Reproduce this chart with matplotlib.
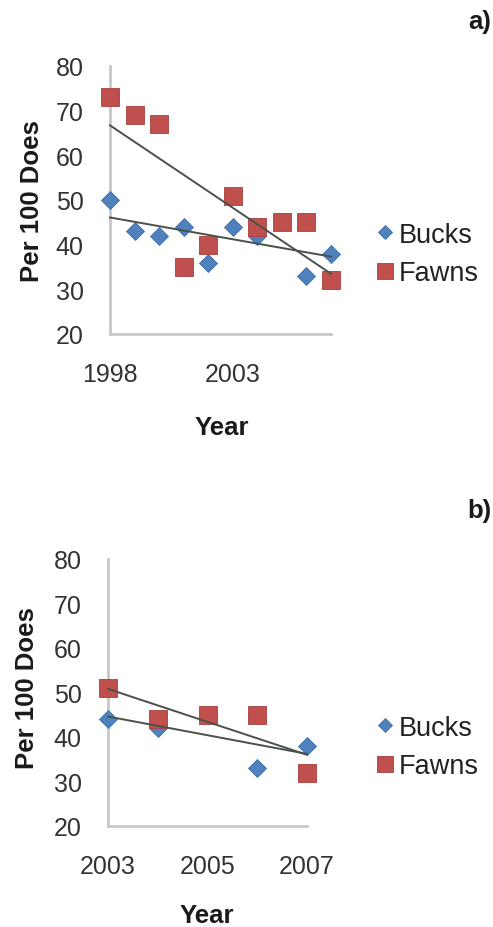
import numpy as np
import matplotlib.pyplot as plt

# buck and fawn ratios per 100 does
years_a = [1998, 1999, 2000, 2001, 2002, 2003, 2004, 2005, 2006, 2007]
bucks_a = [50, 43, 42, 44, 36, 44, 42, 45, 33, 38]
fawns_a = [73, 69, 67, 35, 40, 51, 44, 45, 45, 32]

years_b = [2003, 2004, 2005, 2006, 2007]
bucks_b = [44, 42, 45, 33, 38]
fawns_b = [51, 44, 45, 45, 32]

xticks_a = [1998, 2003]
xticks_b = [2003, 2005, 2007]
yticks = [20, 30, 40, 50, 60, 70, 80]

plt.rcParams['font.family'] = ['Liberation Sans', 'DejaVu Sans']

W, H = 493, 928
fig = plt.figure(figsize=(W / 100, H / 100), dpi=100)

BLUE = '#4f81bd'
RED = '#c0504d'


def fx(x):
    return x / W


def fy(y):
    return 1 - y / H


def panel(box, years, bucks, fawns, xticks, tag, tag_pos, ylab_pos, xlab_pos, leg_pos):
    x0, y0, x1, y1 = box
    ax = fig.add_axes([fx(x0), fy(y1), (x1 - x0) / W, (y1 - y0) / H])
    ax.plot(years, bucks, ls='none', marker='D', ms=8.8, color=BLUE,
            mec='#3f6fa8', mew=0.6, label='Bucks', clip_on=False, zorder=3)
    ax.plot(years, fawns, ls='none', marker='s', ms=12.8, color=RED,
            mec='#a8403d', mew=0.6, label='Fawns', clip_on=False, zorder=3)

    # linear trendlines over the data range
    xs = np.array([years[0], years[-1]])
    for vals in (bucks, fawns):
        k, b = np.polyfit(years, vals, 1)
        ax.plot(xs, k * xs + b, color='#4a504a', lw=1.4, zorder=4, clip_on=False)

    ax.set_xlim(years[0], years[-1])
    ax.set_ylim(20, 80)
    ax.set_xticks(xticks)
    ax.set_yticks(yticks)
    ax.tick_params(length=0, labelsize=18, colors='#333333')
    ax.tick_params(axis='x', pad=20)
    ax.tick_params(axis='y', pad=19)
    for s in ('top', 'right'):
        ax.spines[s].set_visible(False)
    for s in ('left', 'bottom'):
        ax.spines[s].set_color('#c8c8c8')
        ax.spines[s].set_linewidth(2)

    fig.text(fx(ylab_pos[0]), fy(ylab_pos[1]), 'Per 100 Does', rotation=90,
             ha='center', va='center', fontsize=18.5, fontweight='bold', color='#1a1a1a')
    fig.text(fx(xlab_pos[0]), fy(xlab_pos[1]), 'Year', ha='center', va='baseline',
             fontsize=18.5, fontweight='bold', color='#1a1a1a')
    fig.text(fx(tag_pos[0]), fy(tag_pos[1]), tag, ha='left', va='center',
             fontsize=18.5, fontweight='bold', color='#1a1a1a')

    ax.legend(loc='center left', bbox_to_anchor=(fx(leg_pos[0]), fy(leg_pos[1])),
              bbox_transform=fig.transFigure, frameon=False, fontsize=19.5,
              handlelength=0.6, handletextpad=0.2, labelspacing=0.45,
              borderpad=0, borderaxespad=0, markerscale=0.85, labelcolor='#222222')
    return ax


panel((110, 67, 331, 335), years_a, bucks_a, fawns_a, xticks_a, 'a)',
      (468, 22), (32, 201), (222, 435), (377, 255))
panel((108, 560, 307, 827), years_b, bucks_b, fawns_b, xticks_b, 'b)',
      (467, 511), (27, 688), (207, 923), (377, 748))

fig.savefig('out.png', dpi=100)
